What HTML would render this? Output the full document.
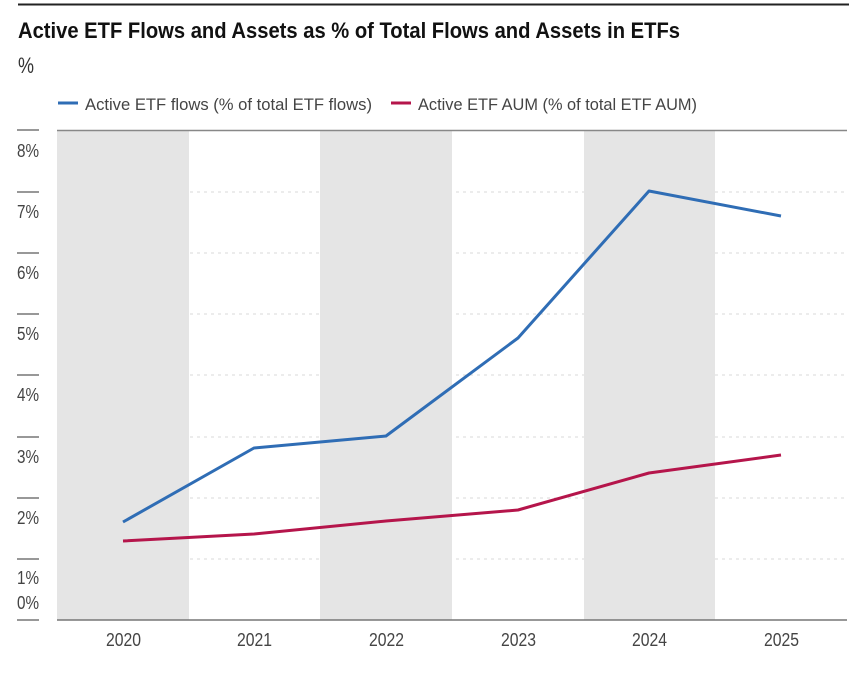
<!DOCTYPE html>
<html><head><meta charset="utf-8"><style>
html,body{margin:0;padding:0;background:#fff;}
svg{display:block;font-family:"Liberation Sans",sans-serif;}
</style></head><body>
<svg width="849" height="678" viewBox="0 0 849 678" xmlns="http://www.w3.org/2000/svg">
<rect width="849" height="678" fill="#fff"/>
<line x1="18" y1="4.5" x2="849" y2="4.5" stroke="#222" stroke-width="2"/>
<text x="18" y="38" font-size="22" font-weight="bold" fill="#111" textLength="662" lengthAdjust="spacingAndGlyphs">Active ETF Flows and Assets as % of Total Flows and Assets in ETFs</text>
<text x="18" y="73" font-size="22" fill="#333" textLength="16" lengthAdjust="spacingAndGlyphs">%</text>
<line x1="58" y1="103" x2="78" y2="103" stroke="#2f6db5" stroke-width="3"/>
<text x="85" y="110" font-size="17" fill="#444" textLength="287" lengthAdjust="spacingAndGlyphs">Active ETF flows (% of total ETF flows)</text>
<line x1="391" y1="103" x2="411" y2="103" stroke="#b5154b" stroke-width="3"/>
<text x="418" y="110" font-size="17" fill="#444" textLength="279" lengthAdjust="spacingAndGlyphs">Active ETF AUM (% of total ETF AUM)</text>
<!-- grid -->
<g stroke="#d8d8d8" stroke-width="1" stroke-dasharray="3,4">
<line x1="57" y1="192" x2="847" y2="192"/>
<line x1="57" y1="253" x2="847" y2="253"/>
<line x1="57" y1="314" x2="847" y2="314"/>
<line x1="57" y1="375" x2="847" y2="375"/>
<line x1="57" y1="437" x2="847" y2="437"/>
<line x1="57" y1="498" x2="847" y2="498"/>
<line x1="57" y1="559" x2="847" y2="559"/>
</g>
<!-- bands -->
<rect x="57" y="130" width="132" height="490" fill="#e5e5e5"/>
<rect x="320" y="130" width="132" height="490" fill="#e5e5e5"/>
<rect x="584" y="130" width="131" height="490" fill="#e5e5e5"/>
<line x1="57" y1="130.5" x2="847" y2="130.5" stroke="#888" stroke-width="1.5"/>
<line x1="57" y1="620" x2="847" y2="620" stroke="#777" stroke-width="1.5"/>
<!-- ticks -->
<g stroke="#777" stroke-width="1.5">
<line x1="17" y1="130" x2="39" y2="130"/>
<line x1="17" y1="192" x2="39" y2="192"/>
<line x1="17" y1="253" x2="39" y2="253"/>
<line x1="17" y1="314" x2="39" y2="314"/>
<line x1="17" y1="375" x2="39" y2="375"/>
<line x1="17" y1="437" x2="39" y2="437"/>
<line x1="17" y1="498" x2="39" y2="498"/>
<line x1="17" y1="559" x2="39" y2="559"/>
<line x1="17" y1="620" x2="39" y2="620"/>
</g>
<g font-size="18" fill="#444">
<text x="17" y="157" textLength="22" lengthAdjust="spacingAndGlyphs">8%</text>
<text x="17" y="218" textLength="22" lengthAdjust="spacingAndGlyphs">7%</text>
<text x="17" y="279" textLength="22" lengthAdjust="spacingAndGlyphs">6%</text>
<text x="17" y="340" textLength="22" lengthAdjust="spacingAndGlyphs">5%</text>
<text x="17" y="401" textLength="22" lengthAdjust="spacingAndGlyphs">4%</text>
<text x="17" y="463" textLength="22" lengthAdjust="spacingAndGlyphs">3%</text>
<text x="17" y="524" textLength="22" lengthAdjust="spacingAndGlyphs">2%</text>
<text x="17" y="584" textLength="22" lengthAdjust="spacingAndGlyphs">1%</text>
<text x="17" y="609" textLength="22" lengthAdjust="spacingAndGlyphs">0%</text>
</g>
<g font-size="18" fill="#444">
<text x="106" y="646" textLength="35" lengthAdjust="spacingAndGlyphs">2020</text>
<text x="237" y="646" textLength="35" lengthAdjust="spacingAndGlyphs">2021</text>
<text x="369" y="646" textLength="35" lengthAdjust="spacingAndGlyphs">2022</text>
<text x="501" y="646" textLength="35" lengthAdjust="spacingAndGlyphs">2023</text>
<text x="632" y="646" textLength="35" lengthAdjust="spacingAndGlyphs">2024</text>
<text x="764" y="646" textLength="35" lengthAdjust="spacingAndGlyphs">2025</text>
</g>
<polyline points="123,522 254,448 386,436 518,338 649,191 781,216" fill="none" stroke="#2f6db5" stroke-width="3" stroke-linejoin="round"/>
<polyline points="123,541 254,534 386,521 518,510 649,473 781,455" fill="none" stroke="#b5154b" stroke-width="3" stroke-linejoin="round"/>
</svg>
</body></html>
